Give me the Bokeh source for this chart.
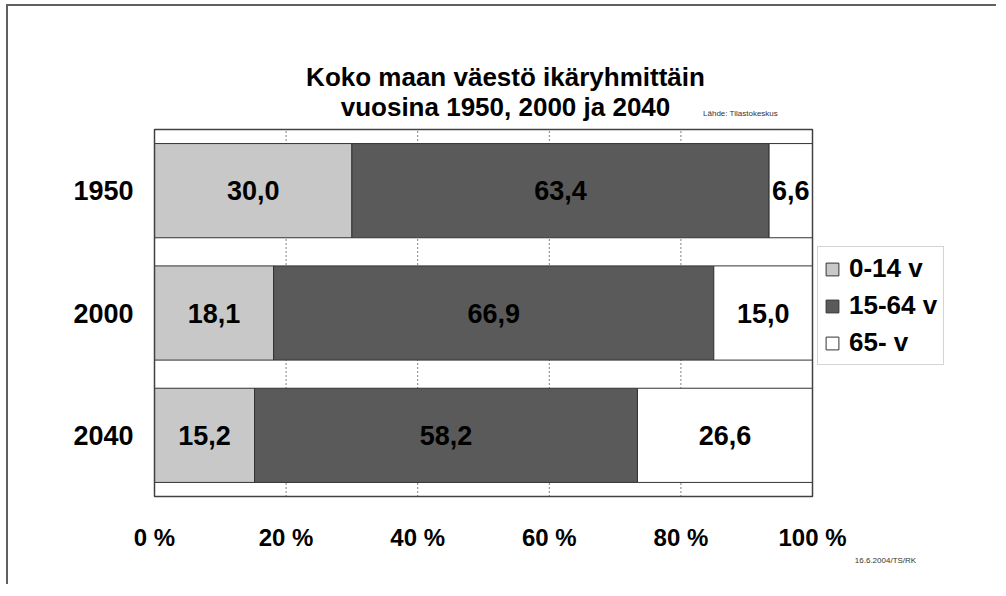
from bokeh.plotting import figure
from bokeh.models import Range1d, Legend, LegendItem, ColumnDataSource
from bokeh.core.properties import value
from bokeh.embed import file_html
from bokeh.resources import INLINE

# ---- data ----
years = ["1950", "2000", "2040"]
age_0_14 = [30.0, 18.1, 15.2]
age_15_64 = [63.4, 66.9, 58.2]
age_65 = [6.6, 15.0, 26.6]
groups = ["0-14 v", "15-64 v", "65- v"]
colors = ["#c8c8c8", "#5a5a5a", "#ffffff"]
x_ticks = [0, 20, 40, 60, 80, 100]
x_tick_labels = ["0 %", "20 %", "40 %", "60 %", "80 %", "100 %"]
grid_ticks = [20, 40, 60, 80]
title1 = "Koko maan väestö ikäryhmittäin"
title2 = "vuosina 1950, 2000 ja 2040"
source_note = "Lähde: Tilastokeskus"
date_note = "16.6.2004/TS/RK"

FONT = "Liberation Sans"

# ---- layout (pixels on the canvas) ----
W, H = 990, 580
BOX_L, BOX_R, BOX_T, BOX_B = 146, 804, 123, 490   # plot box inside canvas
X0, X1 = 0.0, 100.0
Y0, Y1 = -0.5, len(years) - 0.5
sx = (X1 - X0) / (BOX_R - BOX_L)
sy = (Y1 - Y0) / (BOX_B - BOX_T)
x_range = Range1d(X0 - BOX_L * sx, X1 + (W - BOX_R) * sx)
y_range = Range1d(Y0 - (H - BOX_B) * sy, Y1 + BOX_T * sy)

def px_x(px):  # canvas px -> data x
    return X0 + (px - BOX_L) * sx

def px_y(py):  # canvas px (from top) -> data y
    return Y1 - (py - BOX_T) * sy

ypos = [len(years) - 1 - i for i in range(len(years))]

p = figure(width=W, height=H, output_backend="svg", toolbar_location=None,
           x_range=x_range, y_range=y_range,
           x_axis_location=None, y_axis_location=None,
           min_border=0)
p.background_fill_color = "white"
p.border_fill_color = "white"
p.outline_line_color = None
p.xgrid.visible = False
p.ygrid.visible = False
p.styles = {"border-top": "2px solid #606060", "border-left": "2px solid #606060",
            "margin-left": "6px", "margin-top": "4px"}

# dotted grid lines inside the box
p.segment(x0=grid_ticks, x1=grid_ticks, y0=[Y0] * len(grid_ticks), y1=[Y1] * len(grid_ticks),
          line_color="black", line_dash="1 3", line_width=1)

# stacked bars
series = [age_0_14, age_15_64, age_65]
lefts = [0.0] * len(years)
renderers = []
for vals, col in zip(series, colors):
    rights = [l + v for l, v in zip(lefts, vals)]
    src = ColumnDataSource(dict(y=ypos, left=lefts, right=rights,
                                cx=[(l + r) / 2 for l, r in zip(lefts, rights)],
                                txt=[f"{v:.1f}".replace(".", ",") for v in vals]))
    r = p.hbar(y="y", left="left", right="right", height=0.77, source=src,
               fill_color=col, line_color="#333333", line_width=1)
    renderers.append(r)
    p.text(x="cx", y="y", text="txt", source=src, text_align="center",
           text_baseline="middle", text_font=value(FONT), text_font_style="bold",
           text_font_size="27px", text_color="black")
    lefts = rights

# plot box
p.quad(left=[X0], right=[X1], bottom=[Y0], top=[Y1], fill_color=None,
       line_color="#404040", line_width=1.5)

# tick labels
p.text(x=x_ticks, y=[px_y(BOX_B + 41)] * len(x_ticks), text=x_tick_labels,
       text_align="center", text_baseline="middle", text_font=value(FONT),
       text_font_style="bold", text_font_size="24px", text_color="black")
p.text(x=[px_x(BOX_L - 21)] * len(years), y=ypos, text=years,
       text_align="right", text_baseline="middle", text_font=value(FONT),
       text_font_style="bold", text_font_size="27px", text_color="black")

# titles and notes
p.text(x=[px_x(497)] * 2, y=[px_y(70), px_y(100)], text=[title1, title2],
       text_align="center", text_baseline="middle", text_font=value(FONT),
       text_font_style="bold", text_font_size="26px", text_color="black")
p.text(x=[px_x(732)], y=[px_y(107)], text=[source_note], text_align="center",
       text_baseline="middle", text_font=value(FONT), text_font_size="8px",
       text_color="#333333")
p.text(x=[px_x(877)], y=[px_y(554)], text=[date_note], text_align="center",
       text_baseline="middle", text_font=value(FONT), text_font_size="8px",
       text_color="#333333")

# legend (inside the full-canvas frame)
legend = Legend(items=[LegendItem(label=g, renderers=[r]) for g, r in zip(groups, renderers)],
                location=(809, 221), orientation="vertical",
                label_text_font=FONT, label_text_font_style="bold",
                label_text_font_size="26px", label_text_color="black",
                glyph_width=16, glyph_height=16, label_height=30, label_standoff=9,
                spacing=6, padding=6, margin=0,
                border_line_color="#aaaaaa", border_line_width=1,
                background_fill_color="white", background_fill_alpha=1)
p.add_layout(legend, "center")

open("out.html", "w").write(file_html(p, INLINE))
